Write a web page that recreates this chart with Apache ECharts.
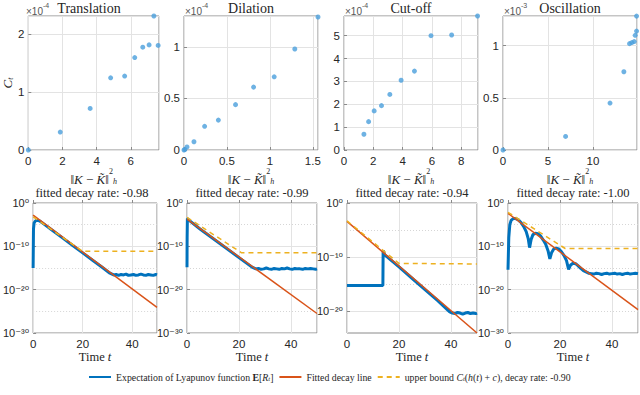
<!DOCTYPE html>
<html><head><meta charset="utf-8">
<script src="https://cdn.jsdelivr.net/npm/echarts@6/dist/echarts.min.js"></script>
<style>html,body{margin:0;padding:0;background:#fff}#c{width:640px;height:395px}</style>
</head><body><div id="c"></div>
<script>
// ---------- data ----------
const panelTitles = ['Translation', 'Dilation', 'Cut-off', 'Oscillation'];
const panelExponents = ['-4', '-4', '-4', '-3'];
const decayRates = ['-0.98', '-0.99', '-0.94', '-1.00'];
const boundRate = '-0.90';

// top row: C_t (in units of 10^exp) vs ||K - K~||_h^2
const transDist = [0, 1.87, 3.62, 4.82, 5.64, 6.23, 6.70, 7.07, 7.35, 7.60];
const transC    = [0, 0.31, 0.72, 1.25, 1.28, 1.60, 1.78, 1.82, 2.32, 1.81];
const dilDist = [0, 0.01, 0.035, 0.116, 0.24, 0.40, 0.60, 0.81, 1.05, 1.29, 1.56];
const dilC    = [0, 0.005, 0.03, 0.08, 0.23, 0.29, 0.44, 0.61, 0.71, 0.98, 1.29];
const cutDist = [1.36, 1.68, 2.06, 2.56, 3.13, 3.90, 4.81, 5.94, 7.35, 9.12];
const cutC    = [0.69, 1.24, 1.71, 1.94, 2.43, 3.05, 3.45, 5.00, 5.03, 5.86];
const oscDist = [0, 6.96, 11.9, 13.44, 14.07, 14.33, 14.59, 14.70, 14.85, 14.85];
const oscC    = [0, 0.13, 0.45, 0.75, 1.02, 1.03, 1.04, 1.10, 1.14, 1.284];

const scatterXMax  = [7.65, 1.56, 9.15, 14.9];
const scatterXStep = [2, 0.5, 2, 5];
const scatterYMax  = [2.32, 1.30, 5.86, 1.285];
const scatterYStep = [1, 0.5, 1, 0.5];

// bottom row: log10 of E[R_t] vs time
const transLyapT = [0,0.15,0.4,1,1.8,2.8,4,8,12,16,20,24,28,31,32.5,33.5,34.5,35.5,36.5,37.5,38.5,39.5,40.5,41.5,42.5,43.5,44.5,45.5,46.5,47.5,48.5,49.5,50];
const transLyapLog = [-15,-6,-4.6,-4.1,-4.0,-4.2,-4.7,-6.4,-8.1,-9.8,-11.5,-13.2,-14.9,-16.2,-16.6,-16.5,-16.7,-16.5,-16.6,-16.4,-16.7,-16.6,-16.5,-16.7,-16.6,-16.4,-16.6,-16.7,-16.5,-16.6,-16.7,-16.5,-16.6];
const dilLyapT = [0,0.05,0.15,0.6,5,10,15,20,25,26.5,27.5,28.5,29.5,30.5,31.5,32.5,33.5,34.5,35.5,36.5,37.5,38.5,39.5,40.5,41.5,42.5,43.5,44.5,45.5,46.5,47.5,48.5,49.5,50];
const dilLyapLog = [-14.8,-8,-3.6,-3.9,-6.0,-8.2,-10.4,-12.6,-14.8,-15.2,-15.1,-15.3,-15.2,-15.0,-15.2,-15.3,-15.1,-15.2,-15.3,-15.1,-15.2,-15.0,-15.2,-15.3,-15.1,-15.2,-15.2,-15.3,-15.1,-15.2,-15.1,-15.2,-15.3,-15.2];
const cutLyapT = [0,13.8,13.9,14.5,20,25,30,35,39.5,40.5,41.5,42.5,43.5,44.5,45.5,46.5,47.5,48.5,49.5,50];
const cutLyapLog = [-15.3,-15.3,-8.8,-9.6,-11.85,-13.95,-16.05,-18.15,-20.2,-20.4,-20.5,-20.3,-20.4,-20.6,-20.4,-20.3,-20.5,-20.4,-20.5,-20.4];
const oscLyapT = [0,0.3,0.7,1.2,2,3,4,5,6,7,7.8,8.3,8.9,9.6,10.5,11.5,12.5,13.5,14.5,15.4,16.1,16.8,17.6,18.5,19.5,20.5,21.5,22.5,23.3,24.1,25,26,27,28,29,30,31,32,33,34,35,36,37,38,39,40,41,42,43,44,45,46,47,48,49,50];
const oscLyapLog = [-15.4,-8,-5,-4.0,-3.6,-3.6,-3.9,-4.5,-5.4,-6.6,-8.3,-10.3,-8.4,-7.3,-7.0,-7.1,-7.6,-8.5,-9.5,-11.0,-12.9,-11.4,-10.6,-10.4,-10.6,-11.2,-12.1,-13.3,-15.3,-14.3,-13.9,-14.0,-14.5,-15.1,-15.6,-15.9,-16.2,-16.3,-16.4,-16.2,-16.3,-16.5,-16.3,-16.2,-16.4,-16.3,-16.2,-16.4,-16.3,-16.5,-16.3,-16.2,-16.4,-16.3,-16.2,-16.3];

const fitT = [0, 50];
const transFitLog = [-2.8, -24.1];
const dilFitLog   = [-3.7, -25.5];
const cutFitLog   = [-3.4, -24.1];
const oscFitLog   = [-2.4, -24.6];

const transBoundT = [0, 20, 50], transBoundLog = [-3.2, -11.15, -11.15];
const dilBoundT   = [0, 21, 50], dilBoundLog   = [-3.3, -11.5, -11.5];
const cutBoundT   = [0, 20, 50], cutBoundLog   = [-3.3, -11.2, -11.3];
const oscBoundT   = [0, 22, 50], oscBoundLog   = [-2.15, -10.5, -10.5];

const lyapYMin = [-30, -30, -24.1, -30];
const lyapMajor = [-30, -20, -10, 0];
const lyapMinor = [-25, -15, -5];
const timeMax = 50, timeStep = 20;

// ---------- build ----------
const SANS = 'Liberation Sans, DejaVu Sans, Arial, sans-serif';
const SERIF = 'Liberation Serif, Times New Roman, serif';
const TXT = '#262626';
const GRIDC = '#e3e3e3';
const BOX = '#8a8a8a';
const zip = (a, b) => a.map((v, i) => [v, b[i]]);
const SUP = {'-': '⁻', '0': '⁰', '1': '¹', '2': '²', '3': '³', '4': '⁴', '5': '⁵', '6': '⁶', '7': '⁷', '8': '⁸', '9': '⁹'};
const sup = s => String(s).split('').map(c => SUP[c] || c).join('');

const scatterSets = [[transDist, transC], [dilDist, dilC], [cutDist, cutC], [oscDist, oscC]];
const lyapSets = [
  [transLyapT, transLyapLog, transFitLog, transBoundT, transBoundLog],
  [dilLyapT, dilLyapLog, dilFitLog, dilBoundT, dilBoundLog],
  [cutLyapT, cutLyapLog, cutFitLog, cutBoundT, cutBoundLog],
  [oscLyapT, oscLyapLog, oscFitLog, oscBoundT, oscBoundLog]
];

const topLeft = [25, 184, 344, 503];
const botLeft = [27, 187, 347, 508];

const grids = [], xAxes = [], yAxes = [], series = [], graphics = [];
const tickLabel = {fontFamily: SANS, fontSize: 11.5, color: TXT};
const nameRich = {
  n: {fontFamily: SERIF, fontSize: 13, color: TXT, lineHeight: 18, verticalAlign: 'bottom'},
  i: {fontFamily: SERIF, fontSize: 13, fontStyle: 'italic', color: TXT, lineHeight: 18, verticalAlign: 'bottom'},
  s: {fontFamily: SERIF, fontSize: 8, color: TXT, lineHeight: 10, verticalAlign: 'top'},
  h: {fontFamily: SERIF, fontSize: 8, fontStyle: 'italic', color: TXT, lineHeight: 8, verticalAlign: 'bottom'}
};

for (let p = 0; p < 4; p++) {
  grids.push({left: topLeft[p], top: 16, width: 134, height: 134, show: true, borderColor: BOX, borderWidth: 1});
  xAxes.push({
    gridIndex: p, type: 'value', min: 0, max: scatterXMax[p], interval: scatterXStep[p],
    axisLine: {show: false}, axisTick: {inside: true, length: 3, lineStyle: {color: BOX}},
    axisLabel: Object.assign({margin: 5, showMaxLabel: false}, tickLabel),
    splitLine: {show: true, lineStyle: {color: GRIDC}},
    name: '{n|‖}{i|K}{n| − }{i|K̃}{n|‖}{s|2}{h|h}', nameLocation: 'middle', nameGap: 16,
    nameTextStyle: {rich: nameRich}
  });
  yAxes.push({
    gridIndex: p, type: 'value', min: 0, max: scatterYMax[p], interval: scatterYStep[p],
    axisLine: {show: false}, axisTick: {inside: true, length: 3, lineStyle: {color: BOX}},
    axisLabel: Object.assign({margin: 4, showMaxLabel: false}, tickLabel),
    splitLine: {show: true, lineStyle: {color: GRIDC}},
    name: p === 0 ? '{i|C}{h|t}' : '', nameLocation: 'middle', nameGap: 12, nameRotate: 90,
    nameTextStyle: {rich: nameRich}
  });
  series.push({
    type: 'scatter', xAxisIndex: p, yAxisIndex: p, symbolSize: 5,
    itemStyle: {color: '#4a9fdc'}, data: zip(scatterSets[p][0], scatterSets[p][1]), silent: true
  });
  graphics.push({
    type: 'text', left: topLeft[p] + 1, top: 2,
    style: {text: '{a|×10}{s|' + panelExponents[p] + '}', rich: {
      a: {fontFamily: SANS, fontSize: 10, fill: '#555', lineHeight: 14, verticalAlign: 'bottom'},
      s: {fontFamily: SANS, fontSize: 7, fill: '#555', lineHeight: 7, verticalAlign: 'top'}}}
  });
  graphics.push({
    type: 'text', x: topLeft[p] + 67 + (p === 0 ? -3 : 0), y: 8,
    style: {text: panelTitles[p], font: '14px ' + SERIF, fill: TXT, textAlign: 'center', textVerticalAlign: 'middle'}
  });
}

for (let p = 0; p < 4; p++) {
  const g = 4 + p;
  grids.push({left: botLeft[p], top: 203, width: 130, height: 130, show: true, borderColor: BOX, borderWidth: 1});
  xAxes.push({
    gridIndex: g, type: 'value', min: 0, max: timeMax, interval: timeStep,
    axisLine: {show: false}, axisTick: {inside: true, length: 3, lineStyle: {color: BOX}},
    axisLabel: Object.assign({margin: 5, showMaxLabel: false}, tickLabel),
    splitLine: {show: true, lineStyle: {color: GRIDC}},
    name: '{n|Time }{i|t}', nameLocation: 'middle', nameGap: 13,
    nameTextStyle: {rich: {
      n: {fontFamily: SERIF, fontSize: 12.5, color: TXT},
      i: {fontFamily: SERIF, fontSize: 12.5, fontStyle: 'italic', color: TXT}}}
  });
  const majors = lyapMajor.filter(v => v >= lyapYMin[p]);
  const minors = lyapMinor.filter(v => v >= lyapYMin[p]);
  const yi = yAxes.length;
  yAxes.push({
    gridIndex: g, type: 'value', min: lyapYMin[p], max: 0,
    axisLine: {show: false},
    axisTick: {inside: true, length: 3, customValues: majors, lineStyle: {color: BOX}},
    axisLabel: Object.assign({margin: 4, customValues: majors, formatter: v => '10' + sup(v)}, tickLabel, {fontSize: 11}),
    splitLine: {show: true, lineStyle: {color: GRIDC}}
  });
  yAxes.push({
    gridIndex: g, type: 'value', min: lyapYMin[p], max: 0, position: 'left',
    axisLine: {show: false}, axisTick: {show: false, customValues: minors},
    axisLabel: {show: false},
    splitLine: {show: true, lineStyle: {color: '#d6d6d6', type: [1, 2]}}
  });
  const s = lyapSets[p];
  series.push({
    name: 'lyap', type: 'line', xAxisIndex: g, yAxisIndex: yi, symbol: 'none', silent: true,
    lineStyle: {color: '#0072BD', width: 3}, itemStyle: {color: '#0072BD'},
    data: zip(s[0], s[1])
  });
  series.push({
    name: 'fit', type: 'line', xAxisIndex: g, yAxisIndex: yi, symbol: 'none', silent: true,
    lineStyle: {color: '#D95319', width: 1.5}, itemStyle: {color: '#D95319'},
    data: zip(fitT, s[2])
  });
  series.push({
    name: 'bound', type: 'line', xAxisIndex: g, yAxisIndex: yi, symbol: 'none', silent: true,
    lineStyle: {color: '#EDB120', width: 1.5, type: [5, 4]}, itemStyle: {color: '#EDB120'},
    data: zip(s[3], s[4])
  });
  graphics.push({
    type: 'text', x: botLeft[p] + 65, y: 193,
    style: {text: 'fitted decay rate: ' + decayRates[p], font: '12.5px ' + SERIF, fill: TXT, textAlign: 'center', textVerticalAlign: 'middle'}
  });
}

const legendNames = {
  lyap: '{n|Expectation of Lyapunov function }{b|E}{n|[}{i|R}{sub|t}{n|]}',
  fit: '{n|Fitted decay line}',
  bound: '{n|upper bound }{i|C}{sub|t}{n|(}{i|h}{n|(}{i|t}{n|) + }{i|c}{n|), decay rate: ' + boundRate + '}'
};

const option = {
  animation: false,
  backgroundColor: '#fff',
  grid: grids, xAxis: xAxes, yAxis: yAxes, series: series,
  graphic: graphics,
  legend: {
    data: ['lyap', 'fit', 'bound'], left: 83, top: 367, itemWidth: 22, itemHeight: 10, itemGap: 5,
    selectedMode: false,
    itemStyle: {opacity: 0, borderWidth: 0},
    formatter: name => legendNames[name],
    textStyle: {rich: {
      n: {fontFamily: SERIF, fontSize: 9.8, color: TXT},
      b: {fontFamily: SERIF, fontSize: 9.8, fontWeight: 'bold', color: TXT},
      i: {fontFamily: SERIF, fontSize: 9.8, fontStyle: 'italic', color: TXT},
      sub: {fontFamily: SERIF, fontSize: 6.5, fontStyle: 'italic', color: TXT, verticalAlign: 'bottom', lineHeight: 9}
    }}
  }
};

const chart = echarts.init(document.getElementById('c'), null, {renderer: 'svg'});
chart.setOption(option);
</script></body></html>
